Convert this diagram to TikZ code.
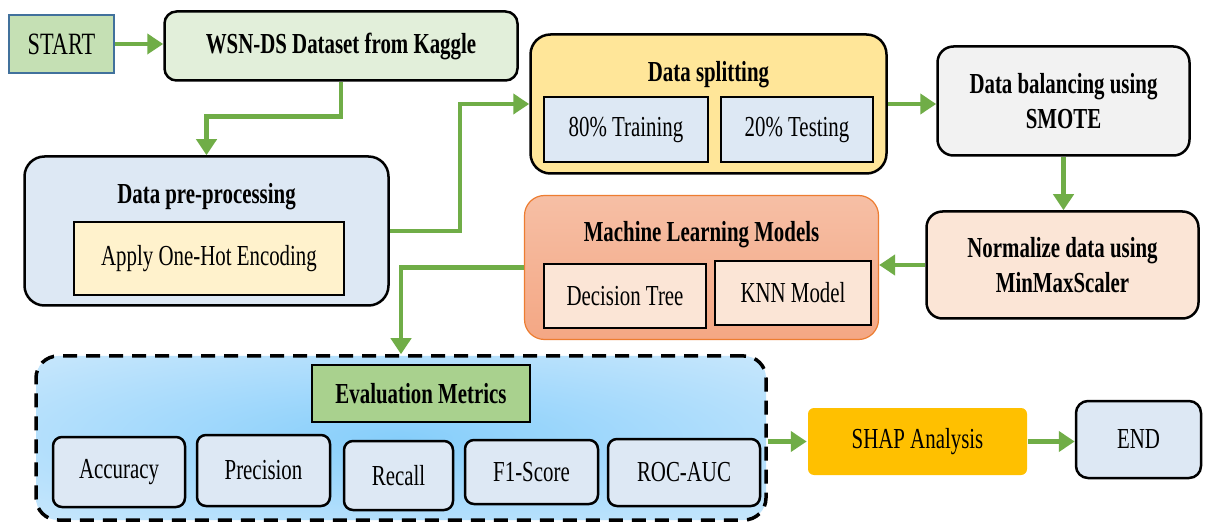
\documentclass[tikz,border=0pt]{standalone}
\usepackage{fontspec}
\setmainfont{Liberation Serif}[FakeStretch=0.72]
\usetikzlibrary{arrows.meta,shadings}
\definecolor{agreen}{HTML}{70AD47}
\definecolor{startfill}{HTML}{C5E0B4}
\definecolor{startline}{HTML}{41719C}
\definecolor{wsnfill}{HTML}{E2EFDA}
\definecolor{lblue}{HTML}{DDE8F4}
\definecolor{lyellow}{HTML}{FFF2CC}
\definecolor{gold}{HTML}{FFE699}
\definecolor{lgray}{HTML}{F2F2F2}
\definecolor{peach}{HTML}{FBE5D6}
\definecolor{mltop}{HTML}{F6BFA5}
\definecolor{mlbot}{HTML}{F4A784}
\definecolor{mlline}{HTML}{ED7D31}
\definecolor{emgreen}{HTML}{A9D18E}
\definecolor{shapfill}{HTML}{FFC000}
\definecolor{evalin}{HTML}{86CEFB}
\definecolor{evalout}{HTML}{E2F1FD}
\pgfdeclareradialshading{evalshade}{\pgfpoint{0bp}{0bp}}{color(0bp)=(evalin); color(50bp)=(evalout)}
\newcommand\myfs{\fontsize{29}{35}\selectfont}
\tikzset{
  base/.style={line width=2.5pt, inner sep=0pt, align=center, font=\myfs, text=black},
  rbox/.style={base, draw=black, rounded corners=12pt},
  sbox/.style={base, draw=black},
  mbox/.style={base, draw=black, rounded corners=9pt, fill=lblue},
  ttl/.style={font=\myfs\bfseries, inner sep=0pt, text=black},
  arr/.style={draw=agreen, line width=4.5pt, -{Triangle[length=16pt,width=20pt]}},
}
\begin{document}
\begin{tikzpicture}[x=1pt,y=-1pt]
\fill[white] (0,0) rectangle (1207,526);
\useasboundingbox (0,0) rectangle (1207,526);

% START and dataset
\node[base, draw=startline, fill=startfill, font=\fontsize{31}{35}\selectfont,
      minimum width=105pt, minimum height=58pt] (start) at (61.5,44) {START};
\node[rbox, fill=wsnfill, font=\myfs\bfseries, minimum width=353pt, minimum height=69pt]
      (wsn) at (341,46) {WSN-DS Dataset from Kaggle};

% pre-processing
\node[rbox, rounded corners=20pt, fill=lblue, minimum width=364pt, minimum height=149pt]
      (pre) at (206.5,231) {};
\node[ttl] (pretitle) at (206.5,197) {Data pre-processing};
\node[sbox, fill=lyellow, minimum width=270pt, minimum height=73pt]
      (onehot) at (209,258.5) {Apply One-Hot Encoding};

% data splitting
\node[rbox, rounded corners=20pt, fill=gold, minimum width=356pt, minimum height=139pt]
      (split) at (708.5,104) {};
\node[ttl] (splittitle) at (708.5,75) {Data splitting};
\node[sbox, fill=lblue, minimum width=164pt, minimum height=65pt]
      (train) at (626,129.5) {80\% Training};
\node[sbox, fill=lblue, minimum width=152pt, minimum height=65pt]
      (test) at (797,129.5) {20\% Testing};

% balancing
\node[rbox, rounded corners=16pt, fill=lgray, font=\myfs\bfseries, minimum width=252pt, minimum height=109pt]
      (bal) at (1063.5,101) {Data balancing using\\SMOTE};

% normalize
\node[rbox, rounded corners=16pt, fill=peach, font=\myfs\bfseries, minimum width=272pt, minimum height=107pt]
      (norm) at (1062.5,265) {Normalize data using\\MinMaxScaler};

% ML models
\node[base, draw=mlline, line width=1.2pt, rounded corners=20pt, top color=mltop, bottom color=mlbot,
      minimum width=354pt, minimum height=144pt] (ml) at (701.5,267.5) {};
\node[ttl] (mltitle) at (701.5,235) {Machine Learning Models};
\node[sbox, fill=peach, minimum width=162pt, minimum height=64pt]
      (dt) at (625,296) {Decision Tree};
\node[sbox, fill=peach, minimum width=156pt, minimum height=64pt]
      (knn) at (793,293) {KNN Model};

% evaluation
\node[base, draw=black, line width=3.5pt, dash pattern=on 14pt off 9pt, rounded corners=22pt,
      shading=evalshade, minimum width=730pt, minimum height=164pt] (eval) at (401,438) {};
\node[sbox, fill=emgreen, font=\myfs\bfseries, minimum width=218pt, minimum height=57pt]
      (em) at (421,393.5) {Evaluation Metrics};
\node[mbox, minimum width=132pt, minimum height=70pt] (acc) at (119,472) {Accuracy};
\node[mbox, minimum width=133pt, minimum height=71pt] (prec) at (263.5,470.5) {Precision};
\node[mbox, minimum width=109pt, minimum height=69pt] (rec) at (398.5,475.5) {Recall};
\node[mbox, minimum width=133pt, minimum height=64pt] (f1) at (531.5,472) {F1-Score};
\node[mbox, minimum width=152pt, minimum height=67pt] (roc) at (684,472.5) {ROC-AUC};

% SHAP and END
\node[base, fill=shapfill, rounded corners=6pt, minimum width=219pt, minimum height=67pt]
      (shap) at (917.5,441.5) {SHAP Analysis};
\node[rbox, fill=lblue, minimum width=125pt, minimum height=77pt]
      (endn) at (1138.5,439.5) {END};

% connectors
\draw[arr] (start.east) -- (start.east -| wsn.west);
\draw[arr] (wsn.south) -- ++(0,35) -| (pre.north);
\draw[arr] (pre.east) -- (460,231) |- (split.west);
\draw[arr] (split.east) -- (split.east -| bal.west);
\draw[arr] (bal.south) -- (bal.south |- norm.north);
\draw[arr] (norm.west) -- (norm.west -| ml.east);
\draw[arr] (ml.west) -| (eval.north);
\draw[arr] (eval.east |- shap.west) -- (shap.west);
\draw[arr] (shap.east) -- (shap.east -| endn.west);
\end{tikzpicture}
\end{document}
